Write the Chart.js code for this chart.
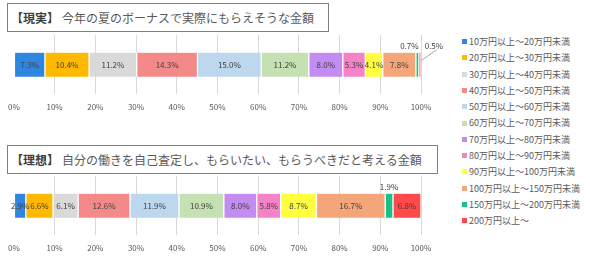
<!DOCTYPE html>
<html>
<head>
<meta charset="utf-8">
<script src="https://cdn.jsdelivr.net/npm/chart.js@4"></script>
<style>
    body { margin: 0; width: 590px; height: 263px; background: #fff; position: relative; overflow: hidden; font-family: "Noto Sans CJK JP", sans-serif; }
    .title { position: absolute; left: 7px; height: 29px; line-height: 27px; border: 1px solid #7f7f7f; box-sizing: border-box; padding-left: 3px; font-size: 12px; color: #595959; white-space: nowrap; }
    .title b { color: #404040; margin-right: 3px; }
    canvas { position: absolute; left: 0; }
    #legend { position: absolute; left: 462px; top: 34px; font-size: 9px; color: #595959; }
    #legend div { height: 16.3px; line-height: 16px; white-space: nowrap; }
    #legend span { display: inline-block; width: 5px; height: 5px; margin-right: 2px; vertical-align: middle; position: relative; top: -1px; }
</style>
</head>
<body>
<div class="title" style="top:3px;width:322px;"><b>【現実】</b>今年の夏のボーナスで実際にもらえそうな金額</div>
<canvas id="realChart" width="455" height="87" style="top:33px;"></canvas>
<div class="title" style="top:145px;width:431px;"><b>【理想】</b>自分の働きを自己査定し、もらいたい、もらうべきだと考える金額</div>
<canvas id="idealChart" width="455" height="87" style="top:174px;"></canvas>
<div id="legend"></div>
<script>
// 金額帯（凡例）
const categories = [
    '10万円以上～20万円未満', '20万円以上～30万円未満', '30万円以上～40万円未満',
    '40万円以上～50万円未満', '50万円以上～60万円未満', '60万円以上～70万円未満',
    '70万円以上～80万円未満', '80万円以上～90万円未満', '90万円以上～100万円未満',
    '100万円以上～150万円未満', '150万円以上～200万円未満', '200万円以上～'
];
// 【現実】 / 【理想】 の回答割合 (%)
const realValues = [7.3, 10.4, 11.2, 14.3, 15.0, 11.2, 8.0, 5.3, 4.1, 7.8, 0.7, 0.5];
const idealValues = [2.9, 6.6, 6.1, 12.6, 11.9, 10.9, 8.0, 5.8, 8.7, 16.7, 1.9, 6.8];
const tickValues = [0, 10, 20, 30, 40, 50, 60, 70, 80, 90, 100];

const colors = ['#2f86e0', '#ffb900', '#d9d9d9', '#f4898a', '#bdd7ee', '#c5e0b3',
    '#c38cf2', '#f383c6', '#ffff40', '#f4a57a', '#19c08a', '#ff4a4a'];
const fontFamily = '"Noto Sans CJK JP", sans-serif';

// 小さい区間のラベルはバーの上に表示
const realPlace = { 10: { dx: -8 }, 11: { dx: 14, leader: true } };
const idealPlace = { 10: { dx: 0 } };

const segmentLabels = {
    id: 'segmentLabels',
    afterDatasetsDraw(chart, args, opts) {
        const ctx = chart.ctx;
        const place = opts.place || {};
        ctx.save();
        ctx.font = '8px ' + fontFamily;
        ctx.fillStyle = '#404040';
        ctx.strokeStyle = '#a6a6a6';
        ctx.lineWidth = 1;
        ctx.textAlign = 'center';
        ctx.textBaseline = 'middle';
        chart.data.datasets.forEach((ds, i) => {
            const bar = chart.getDatasetMeta(i).data[0];
            const c = bar.getCenterPoint();
            const text = ds.raw.toFixed(1) + '%';
            const p = place[i];
            if (!p) {
                ctx.fillText(text, c.x, c.y);
                return;
            }
            const top = c.y - 12;
            const ty = top - 7;
            ctx.fillText(text, c.x + p.dx, ty);
            if (p.leader) {
                ctx.beginPath();
                ctx.moveTo(c.x + p.dx + 3, ty + 4);
                ctx.lineTo(c.x + 1, top + 8);
                ctx.stroke();
            }
        });
        ctx.restore();
    }
};

function makeChart(id, values, place) {
    const total = values.reduce((a, b) => a + b, 0);
    return new Chart(document.getElementById(id), {
        type: 'bar',
        data: {
            labels: [''],
            datasets: categories.map((c, i) => ({
                label: c,
                raw: values[i],
                data: [values[i] / total * 100],
                backgroundColor: colors[i],
                borderColor: '#ffffff',
                borderWidth: { left: 1, right: 1, top: 0, bottom: 0 },
                borderSkipped: false,
                barThickness: 24
            }))
        },
        options: {
            indexAxis: 'y',
            responsive: false,
            animation: false,
            layout: { padding: { left: 8.7, right: 34, top: 2, bottom: 0 } },
            plugins: {
                legend: { display: false },
                tooltip: { enabled: false },
                segmentLabels: { place: place }
            },
            scales: {
                x: {
                    stacked: true,
                    min: 0,
                    max: 100,
                    afterBuildTicks: axis => { axis.ticks = tickValues.map(v => ({ value: v })); },
                    ticks: { callback: v => v + '%', color: '#595959', font: { size: 8, family: fontFamily }, padding: 8, maxRotation: 0 },
                    grid: { color: ctx => (ctx.tick && ctx.tick.value === 0 ? 'rgba(0,0,0,0)' : '#d9d9d9'), drawTicks: false },
                    border: { display: false }
                },
                y: { stacked: true, display: false }
            }
        },
        plugins: [segmentLabels]
    });
}

makeChart('realChart', realValues, realPlace);
makeChart('idealChart', idealValues, idealPlace);

// 凡例
document.getElementById('legend').innerHTML = categories
    .map((c, i) => '<div><span style="background:' + colors[i] + '"></span>' + c + '</div>')
    .join('');
</script>
</body>
</html>
